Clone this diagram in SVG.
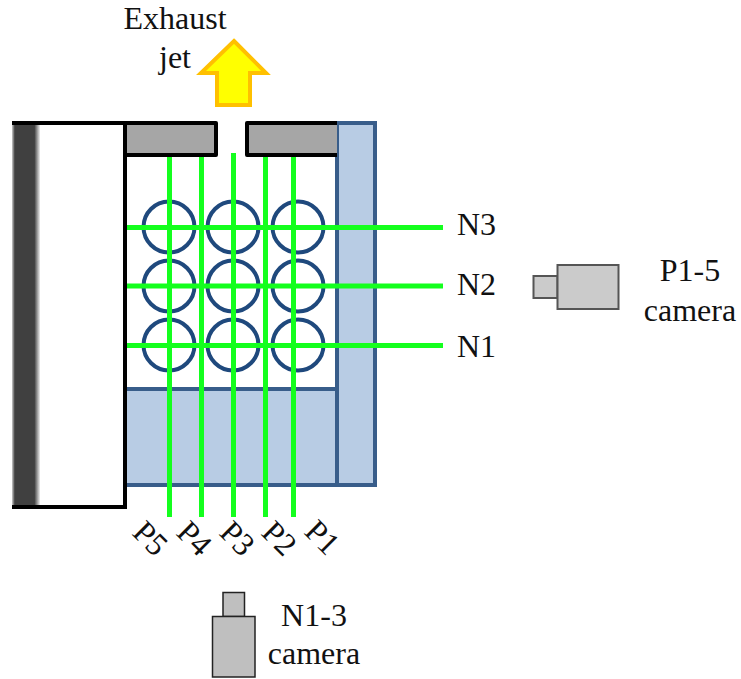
<svg xmlns="http://www.w3.org/2000/svg" width="741" height="679" viewBox="0 0 741 679">
<defs>
<linearGradient id="wall" x1="0" x2="1" y1="0" y2="0"><stop offset="0" stop-color="#ccc"/><stop offset="0.1" stop-color="#404040"/><stop offset="0.8" stop-color="#404040"/><stop offset="1" stop-color="#eee"/></linearGradient>
</defs>
<style>
text{font-family:"Liberation Serif","Times New Roman",serif;font-size:32px;fill:#111}
.blue{fill:#b8cce4;stroke:#385d8a;stroke-width:4}
.ring{fill:none;stroke:#1f497d;stroke-width:4}
.plate{fill:#a6a6a6;stroke:#000;stroke-width:4;stroke-linejoin:round}
.laser{stroke:#14ff1e;stroke-width:5;fill:none}
.cam{fill:#cbcbcb;stroke:#555;stroke-width:2}
.camdark{fill:#bfbfbf;stroke:#222;stroke-width:1.5}
</style>
<g id="chamber">
<rect x="125" y="389" width="212" height="96" class="blue"/>
<rect x="337" y="123" width="38" height="362" class="blue"/>
</g>
<g id="wall">
<rect x="12" y="125" width="28" height="380" fill="url(#wall)"/>
<path d="M12 123H125V507H12" fill="none" stroke="#000" stroke-width="4"/>
</g>
<g id="plates">
<path d="M125 123H216V155H125Z" class="plate"/>
<path d="M337 123H247V155H337" class="plate"/>
</g>
<g id="rods">
<circle cx="169" cy="227" r="25.5" class="ring"/><circle cx="233" cy="227" r="25.5" class="ring"/><circle cx="298" cy="227" r="25.5" class="ring"/>
<circle cx="169" cy="286" r="25.5" class="ring"/><circle cx="233" cy="286" r="25.5" class="ring"/><circle cx="298" cy="286" r="25.5" class="ring"/>
<circle cx="169" cy="345" r="25.5" class="ring"/><circle cx="233" cy="345" r="25.5" class="ring"/><circle cx="298" cy="345" r="25.5" class="ring"/>
</g>
<g id="connectors">
<path class="laser" d="M127 227.500H443M127 286H443M127 345.500H443"/>
<path class="laser" d="M169.500 157V517M201.500 157V517M233.500 153V517M265.500 157V517M293.500 157V517"/>
</g>
<g id="exhaust-arrow">
<path d="M234 41L266 73H250V105H217V73H201Z" fill="#ffff00" stroke="#ffc000" stroke-width="4"/>
<text x="175" y="29" text-anchor="middle">Exhaust</text>
<text x="175" y="68" text-anchor="middle">jet</text>
</g>
<g id="n-labels">
<text x="457" y="235">N3</text>
<text x="457" y="295">N2</text>
<text x="457" y="357">N1</text>
</g>
<g id="p-labels">
<text transform="translate(131 534) rotate(45)">P5</text>
<text transform="translate(175 534) rotate(45)">P4</text>
<text transform="translate(218 534) rotate(45)">P3</text>
<text transform="translate(260 534) rotate(45)">P2</text>
<text transform="translate(303 533) rotate(45)">P1</text>
</g>
<g id="p-camera">
<rect x="533.500" y="276" width="24" height="22" class="cam"/>
<rect x="557.500" y="265" width="61" height="44" class="cam"/>
<text x="690" y="281" text-anchor="middle">P1-5</text>
<text x="690" y="321" text-anchor="middle">camera</text>
</g>
<g id="n-camera">
<rect x="223" y="592.500" width="21.500" height="24" class="camdark"/>
<rect x="212.500" y="616.500" width="42.500" height="60.500" class="camdark"/>
<text x="314" y="626" text-anchor="middle">N1-3</text>
<text x="314" y="664" text-anchor="middle">camera</text>
</g>
</svg>
